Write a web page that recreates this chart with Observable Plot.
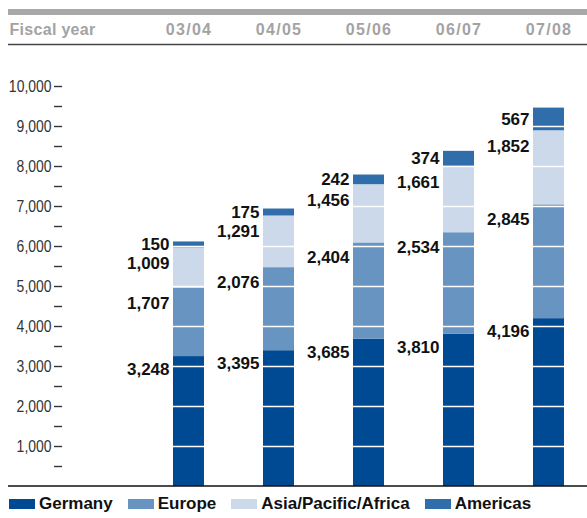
<!DOCTYPE html>
<html><head><meta charset="utf-8">
<script src="https://cdn.jsdelivr.net/npm/d3@7"></script>
<script src="https://cdn.jsdelivr.net/npm/@observablehq/plot@0.6"></script>
<style>
body{margin:0;background:#fff;}
#chart{width:587px;height:518px;position:relative;}
.xhead text{letter-spacing:1.3px;}
.fy text{letter-spacing:0.3px;}
.lg-swatches{font-family:'Liberation Sans',Arial,sans-serif;font-size:17px;font-weight:bold;color:#111;margin:0 !important;padding:0 0 0 9px;height:28px;min-height:0 !important;display:flex;align-items:center;}
.lg-swatches .lg-swatch{margin-right:15px;}
.lg-swatches .lg-swatch > svg{margin-right:4px;}
</style></head><body><div id="chart"></div>
<script>
const years = ["03/04","04/05","05/06","06/07","07/08"];
const regions = ["Germany","Europe","Asia/Pacific/Africa","Americas"];
const germany = [3248,3395,3685,3810,4196];
const europe = [1707,2076,2404,2534,2845];
const asia = [1009,1291,1456,1661,1852];
const americas = [150,175,242,374,567];
const colors = ["#004a93","#6894c1","#cbd9ea","#306eab"];
const yTicks = d3.range(500, 10001, 500);
const gridValues = d3.range(1000, 10000, 1000);

const series = [germany, europe, asia, americas];
const data = years.flatMap((yr,i)=> regions.map((r,j)=>({year:yr, region:r, value:series[j][i]})));
const totals = years.map((yr,i)=>({year:yr,total:d3.sum(series,s=>s[i])}));
const grid = totals.flatMap(t=>gridValues.filter(v=>v<t.total).map(v=>({year:t.year, v})));
const fmt = d3.format(",");
const labelDy = {"Germany":13,"Europe":15,"Asia/Pacific/Africa":16};

const labelMarks = regions.map(r => {
  const opts = {x:"year", y:"value", z:"region", order:regions,
    text: d => d.region===r ? fmt(d.value) : "",
    textAnchor:"end", dx:-19.5, fontWeight:"bold", fontSize:17, fill:"#111"};
  if (r === "Americas") return Plot.text(data, Plot.stackY({...opts, lineAnchor:"middle"}));
  return Plot.text(data, Plot.stackY2({...opts, lineAnchor:"middle", dy:labelDy[r]}));
});

const plot = Plot.plot({
  width:587, height:490, marginLeft:62, marginTop:86, marginBottom:4, marginRight:0,
  style:{fontFamily:"'Liberation Sans', Arial, sans-serif", background:"#fff", overflow:"visible"},
  x:{type:"band", domain:years, range:[171,565], paddingInner:0.66, paddingOuter:0},
  y:{domain:[0,10000]},
  color:{domain:regions, range:colors},
  marks:[
    Plot.barY(data, {x:"year", y:"value", fill:"region", order:regions}),
    Plot.tickY(grid, {x:"year", y:"v", stroke:"#fff", strokeWidth:1.5}),
    Plot.axisY({ticks:yTicks, tickSize:8, tickPadding:3, strokeWidth:1.4,
      tickFormat: d => d%1000===0 ? fmt(d) : "", label:null,
      fontSize:17, color:"#333", className:"yax"}),
    Plot.axisX({anchor:"top", tickSize:0, tickPadding:52, label:null, fontSize:16, fontWeight:"bold",
      color:"#a3a3a3", className:"xhead"}),
    Plot.text(["Fiscal year"], {text:d=>d, frameAnchor:"top-left", dx:-53, dy:-52, textAnchor:"start",
      lineAnchor:"bottom", fontWeight:"bold", fontSize:16, fill:"#a3a3a3", className:"fy"}),
    ...labelMarks
  ]
});

const svg = d3.select(plot);
const y0 = plot.scale("y").apply(0);
svg.append("rect").attr("x",8).attr("y",9).attr("width",579).attr("height",6).attr("fill","#a8a8a8");
svg.append("line").attr("x1",8).attr("x2",587).attr("y1",44.5).attr("y2",44.5).attr("stroke","#444").attr("stroke-width",1.5);
svg.append("line").attr("x1",8).attr("x2",587).attr("y1",y0).attr("y2",y0).attr("stroke","#111").attr("stroke-width",1.5);

const chart = document.getElementById("chart");
chart.appendChild(plot);
// condensed look for the y tick labels
svg.selectAll(".yax text").each(function(){
  const len = this.getComputedTextLength();
  if (len > 0) { this.setAttribute("textLength", len*0.82); this.setAttribute("lengthAdjust","spacingAndGlyphs"); }
});
const legend = Plot.legend({color:{domain:regions, range:colors}, swatchWidth:26, swatchHeight:10, className:"lg"});
chart.appendChild(legend);
</script>
</body></html>
